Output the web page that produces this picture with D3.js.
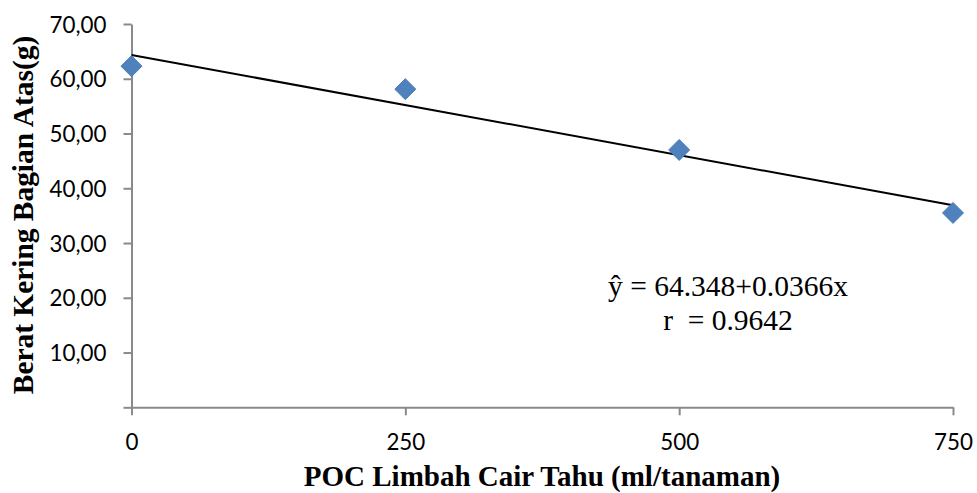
<!DOCTYPE html>
<html><head><meta charset="utf-8">
<script src="https://cdn.jsdelivr.net/npm/d3@7"></script>
<style>
html,body{margin:0;padding:0;background:#fff;}
svg{display:block;}
</style></head>
<body>
<svg id="chart" width="977" height="493"></svg>
<script>
const doses = [0, 250, 500, 750];
const weights = [62.3, 58.1, 47.0, 35.5];
const xTicks = [0, 250, 500, 750];
const yTicks = [0, 10, 20, 30, 40, 50, 60, 70];
const intercept = 64.348;
const slope = -0.0366;
const equationLines = ["ŷ = 64.348+0.0366x", "r  = 0.9642"];
const xTitle = "POC Limbah Cair Tahu (ml/tanaman)";
const yTitle = "Berat Kering Bagian Atas(g)";

const svg = d3.select("#chart");
const x = d3.scaleLinear().domain([0, 750]).range([131.5, 953]);
const y = d3.scaleLinear().domain([0, 70]).range([407.3, 24]);
const axisColor = "#8a8a8a";
const tickFont = "Lato, 'Open Sans', sans-serif";

// measure tick font so that "10,00" is ~57px wide
const probe = svg.append("text").style("font-family", tickFont).style("font-size", "24px").text("10,00");
const probeW = probe.node().getComputedTextLength() || 57;
probe.remove();
const tickSize = Math.max(18, Math.min(32, 24 * 57 / probeW));

// Y axis
const yAxis = svg.append("g").attr("transform", `translate(${x(0)},0)`)
  .call(d3.axisLeft(y).tickValues(yTicks).tickSize(8).tickSizeOuter(0)
    .tickFormat(d => d === 0 ? "" : d3.format(".2f")(d).replace(".", ",")));
yAxis.select(".domain").attr("stroke", axisColor).attr("stroke-width", 2);
yAxis.selectAll(".tick line").attr("stroke", axisColor).attr("stroke-width", 2);
yAxis.selectAll(".tick text").attr("x", -25).attr("dy", "0.36em")
  .style("font-family", tickFont).style("font-size", tickSize + "px").attr("fill", "#000");

// X axis
const xAxis = svg.append("g").attr("transform", `translate(0,${y(0)})`)
  .call(d3.axisBottom(x).tickValues(xTicks).tickSize(8).tickSizeOuter(0).tickFormat(d3.format("d")));
xAxis.select(".domain").attr("stroke", axisColor).attr("stroke-width", 2);
xAxis.selectAll(".tick line").attr("stroke", axisColor).attr("stroke-width", 2);
xAxis.selectAll(".tick text").attr("y", 43).attr("dy", "0")
  .style("font-family", tickFont).style("font-size", tickSize + "px").attr("fill", "#000");

// Trend line
svg.append("line")
  .attr("x1", x(0)).attr("y1", y(intercept + slope * 0))
  .attr("x2", x(750)).attr("y2", y(intercept + slope * 750))
  .attr("stroke", "#000").attr("stroke-width", 2);

// Diamond markers
const r = 10.5;
svg.append("g").selectAll("path").data(doses).join("path")
  .attr("d", (d, i) => {
    const cx = x(d), cy = y(weights[i]);
    return `M${cx},${cy - r}L${cx + r},${cy}L${cx},${cy + r}L${cx - r},${cy}Z`;
  })
  .attr("fill", "#4F81BD").attr("stroke", "#4A7EBB").attr("stroke-width", 1);

// Equation
const eq = svg.append("text").attr("x", 728).attr("y", 296)
  .attr("text-anchor", "middle").style("white-space", "pre")
  .style("font-family", "'Liberation Serif', 'Times New Roman', serif").style("font-size", "29.5px");
equationLines.forEach((t, i) => eq.append("tspan").attr("x", 728).attr("y", 296 + i * 34).text(t));

// Axis titles
svg.append("text").attr("x", 542).attr("y", 486).attr("text-anchor", "middle")
  .style("font-family", "'Liberation Serif', 'Times New Roman', serif").style("font-weight", "bold").style("font-size", "29px")
  .text(xTitle);
svg.append("text").attr("transform", "translate(33,215) rotate(-90)").attr("text-anchor", "middle")
  .style("font-family", "'Liberation Serif', 'Times New Roman', serif").style("font-weight", "bold").style("font-size", "29.4px")
  .text(yTitle);
</script>
</body></html>
